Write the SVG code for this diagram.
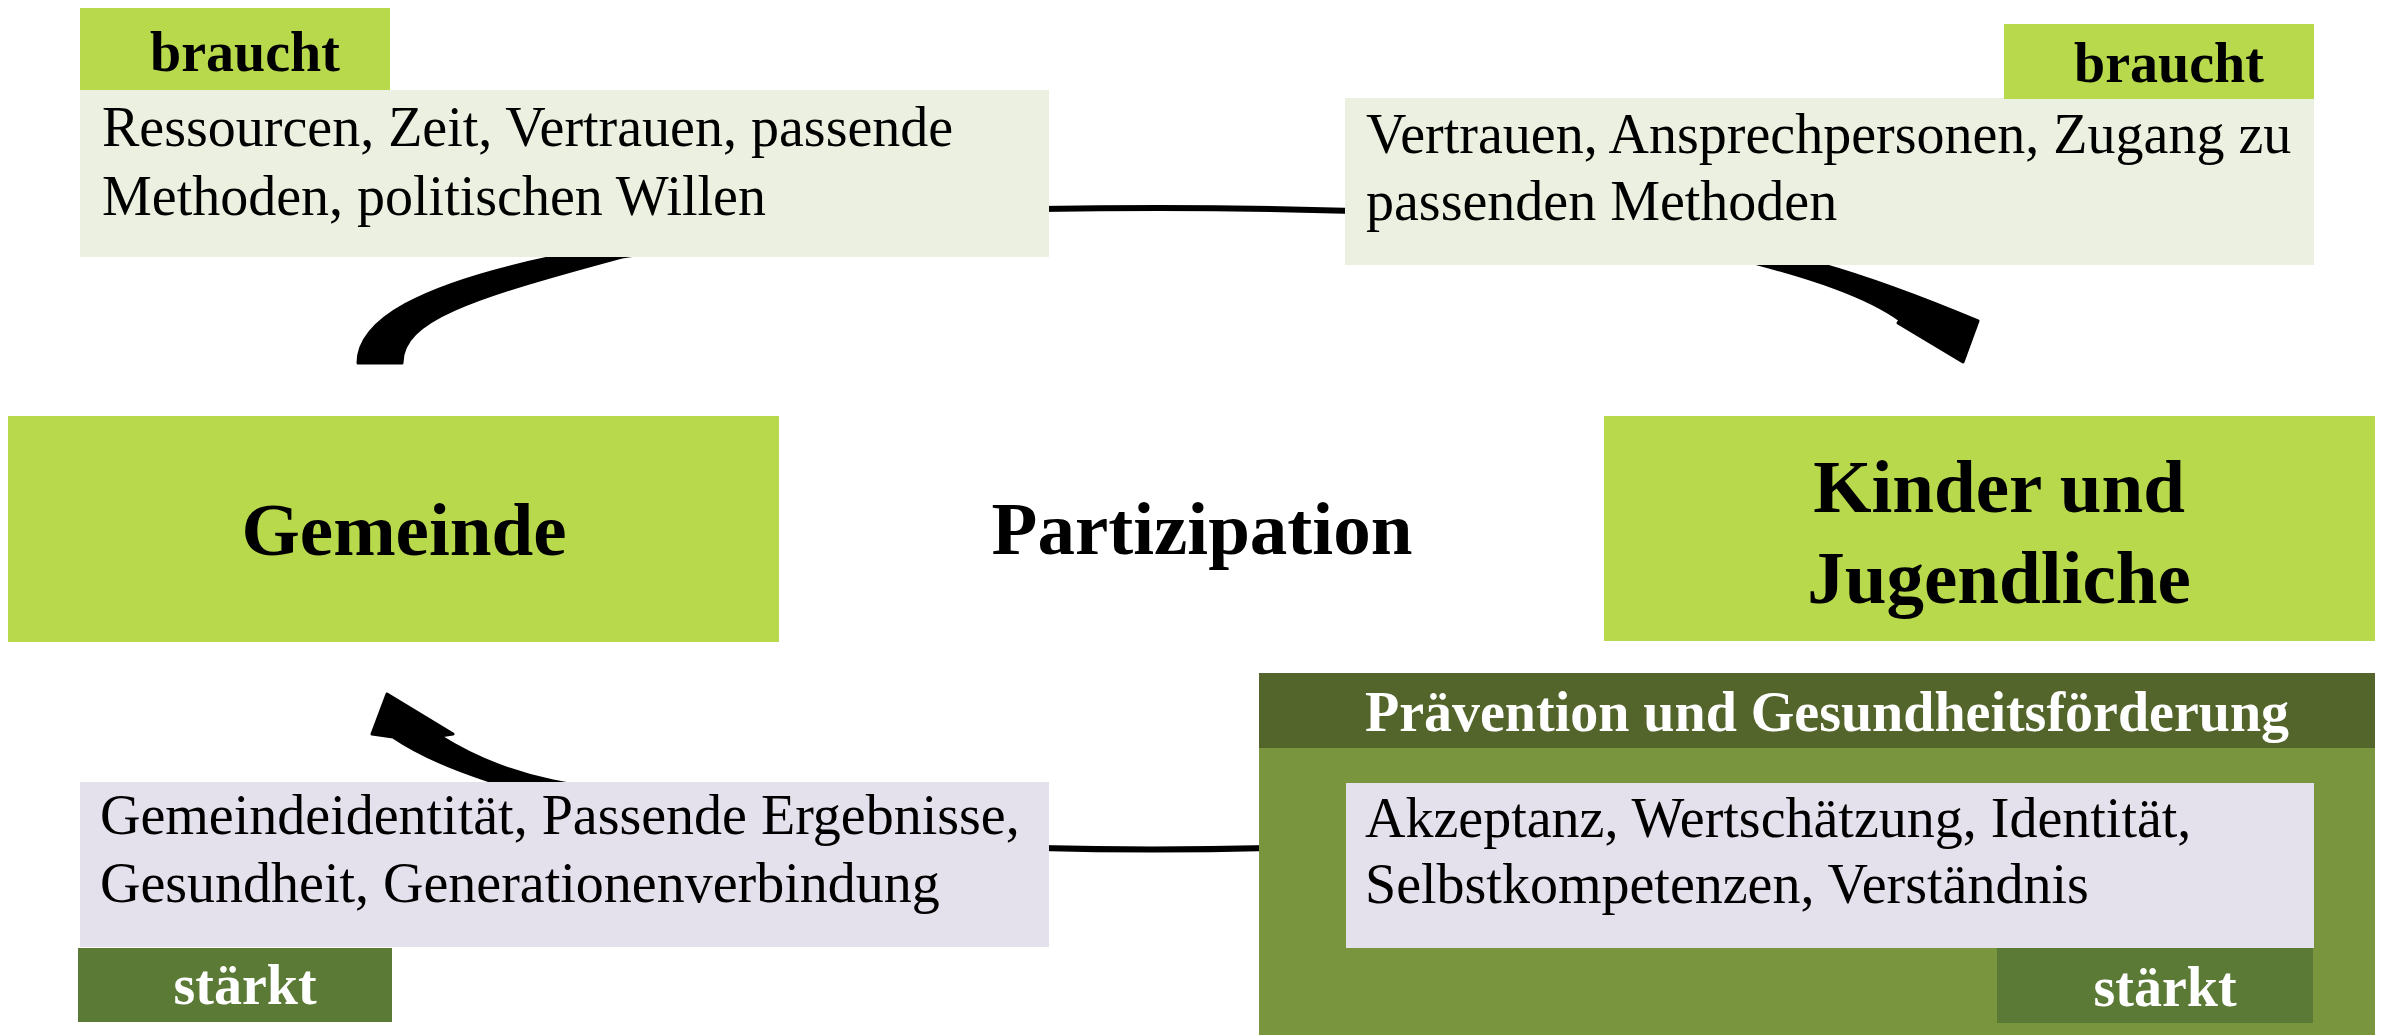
<svg xmlns="http://www.w3.org/2000/svg" width="2382" height="1035" viewBox="0 0 2382 1035">
<style>
.t{font-family:"Liberation Serif","Times New Roman",serif;fill:#000}
.body{font-size:56px}
.lbl{font-size:56px;font-weight:bold}
.big{font-size:75px;font-weight:bold}
.w{fill:#fff}
.lime{fill:#b8d94b}
.pale{fill:#ebf0e0}
.lav{fill:#e4e0ec}
.conn{fill:#000;stroke:#000;stroke-width:3;stroke-linejoin:round}
.line{fill:none;stroke:#000;stroke-width:6}
</style>
<rect width="2382" height="1035" fill="#fff"/>
<g id="connectors">
<path class="conn" d="M358,363 C358,320 420,285 553,257 L900,200 L900,215 L622,257 C470,298 402,320 402,363 Z"/>
<path class="line" d="M1040,209 Q1197,206 1355,211"/>
<path class="conn" d="M1690,245 L1758,264 C1810,278 1865,295 1900,320 L1898,323 L1963,362 L1978,321 C1935,303 1880,281 1820,264 L1750,235 Z"/>
<path class="conn" d="M387,694 L453,734 L440,736 C470,755 510,772 553,781 L680,805 L660,815 L490,781 C450,768 415,752 393,737 L372,734 Z"/>
<path class="line" d="M1040,848 Q1150,851 1270,848"/>
</g>
<g id="node-braucht-left">
<rect class="lime" x="80" y="8" width="310" height="83"/>
<text class="t lbl" x="245" y="71" text-anchor="middle">braucht</text>
</g>
<g id="node-needs-gemeinde">
<rect class="pale" x="80" y="90" width="969" height="167"/>
<text class="t body" x="102" y="146">Ressourcen, Zeit, Vertrauen, passende</text>
<text class="t body" x="102" y="215">Methoden, politischen Willen</text>
</g>
<g id="node-needs-kinder">
<rect class="pale" x="1345" y="98" width="969" height="167"/>
<text class="t body" x="1366" y="153">Vertrauen, Ansprechpersonen, Zugang zu</text>
<text class="t body" x="1366" y="220">passenden Methoden</text>
</g>
<g id="node-braucht-right">
<rect class="lime" x="2004" y="24" width="310" height="75"/>
<text class="t lbl" x="2169" y="82" text-anchor="middle">braucht</text>
</g>
<g id="node-gemeinde">
<rect class="lime" x="8" y="416" width="771" height="226"/>
<text class="t big" x="404" y="555" text-anchor="middle">Gemeinde</text>
</g>
<g id="node-partizipation">
<text class="t big" x="1202" y="554" text-anchor="middle">Partizipation</text>
</g>
<g id="node-kinder">
<rect class="lime" x="1604" y="416" width="771" height="225"/>
<text class="t big" x="1999" y="512" text-anchor="middle">Kinder und</text>
<text class="t big" x="1999" y="603" text-anchor="middle">Jugendliche</text>
</g>
<g id="node-strengthens-gemeinde">
<rect class="lav" x="80" y="782" width="969" height="165"/>
<text class="t body" x="100" y="834">Gemeindeidentität, Passende Ergebnisse,</text>
<text class="t body" x="100" y="902">Gesundheit, Generationenverbindung</text>
</g>
<g id="node-staerkt-left">
<rect fill="#5b7a36" x="78" y="948" width="314" height="74"/>
<text class="t lbl w" x="245" y="1004" text-anchor="middle">stärkt</text>
</g>
<g id="node-praevention">
<rect fill="#79963e" x="1259" y="673" width="1116" height="362"/>
<rect fill="#53652b" x="1259" y="673" width="1116" height="75"/>
<text class="t lbl w" x="1827" y="731" text-anchor="middle">Prävention und Gesundheitsförderung</text>
</g>
<g id="node-strengthens-kinder">
<rect class="lav" x="1346" y="783" width="968" height="165"/>
<text class="t body" x="1365" y="837">Akzeptanz, Wertschätzung, Identität,</text>
<text class="t body" x="1365" y="903">Selbstkompetenzen, Verständnis</text>
</g>
<g id="node-staerkt-right">
<rect fill="#5b7a36" x="1997" y="948" width="316" height="75"/>
<text class="t lbl w" x="2165" y="1006" text-anchor="middle">stärkt</text>
</g>
</svg>
